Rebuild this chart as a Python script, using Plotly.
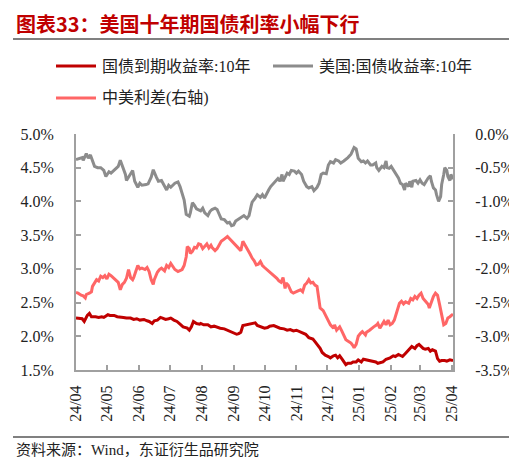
import plotly.graph_objects as go

# ---------------- data ----------------
cn_dates = [
    "2024-04-15", "2024-04-17", "2024-04-21", "2024-04-23", "2024-04-26", "2024-04-28", "2024-04-30",
    "2024-05-04", "2024-05-07", "2024-05-10", "2024-05-12", "2024-05-13", "2024-05-16", "2024-05-18",
    "2024-05-22", "2024-05-25", "2024-05-28", "2024-05-31", "2024-06-03", "2024-06-07", "2024-06-10",
    "2024-06-13", "2024-06-16", "2024-06-20", "2024-06-23", "2024-06-25", "2024-06-28", "2024-06-30",
    "2024-07-03", "2024-07-06", "2024-07-08", "2024-07-11", "2024-07-14", "2024-07-16", "2024-07-19",
    "2024-07-22", "2024-07-25", "2024-07-28", "2024-08-01", "2024-08-03", "2024-08-05", "2024-08-07",
    "2024-08-10", "2024-08-13", "2024-08-14", "2024-08-17", "2024-08-21", "2024-08-24", "2024-08-27",
    "2024-08-30", "2024-09-02", "2024-09-06", "2024-09-09", "2024-09-12", "2024-09-15", "2024-09-18",
    "2024-09-20", "2024-09-22", "2024-09-24", "2024-09-27", "2024-09-30", "2024-10-03", "2024-10-06",
    "2024-10-08", "2024-10-11", "2024-10-15", "2024-10-18", "2024-10-20", "2024-10-24", "2024-10-27",
    "2024-10-30", "2024-11-03", "2024-11-06", "2024-11-09", "2024-11-12", "2024-11-15", "2024-11-18",
    "2024-11-21", "2024-11-24", "2024-11-27", "2024-12-01", "2024-12-03", "2024-12-05", "2024-12-08",
    "2024-12-10", "2024-12-13", "2024-12-16", "2024-12-18", "2024-12-21", "2024-12-23", "2024-12-25",
    "2024-12-27", "2024-12-29", "2024-12-31", "2025-01-02", "2025-01-04", "2025-01-07", "2025-01-09",
    "2025-01-12", "2025-01-14", "2025-01-17", "2025-01-19", "2025-01-22", "2025-01-24", "2025-01-26",
    "2025-01-29", "2025-01-31", "2025-02-02", "2025-02-04", "2025-02-07", "2025-02-10", "2025-02-12",
    "2025-02-14", "2025-02-17", "2025-02-19", "2025-02-22", "2025-02-24", "2025-02-26", "2025-03-01",
    "2025-03-03", "2025-03-05", "2025-03-07", "2025-03-10", "2025-03-12", "2025-03-14", "2025-03-16",
    "2025-03-18", "2025-03-20", "2025-03-23", "2025-03-25", "2025-03-27", "2025-03-30", "2025-04-01",
    "2025-04-03", "2025-04-05", "2025-04-08", "2025-04-10", "2025-04-13", "2025-04-16",
]
cn_10y = [
    2.27, 2.27, 2.26, 2.22, 2.31, 2.34, 2.29,
    2.29, 2.28, 2.29, 2.28, 2.29, 2.32, 2.31,
    2.31, 2.29, 2.29, 2.28, 2.27, 2.27, 2.25,
    2.26, 2.24, 2.25, 2.23, 2.22, 2.19, 2.23,
    2.24, 2.28, 2.27, 2.25, 2.26, 2.27, 2.24,
    2.22, 2.18, 2.14, 2.12, 2.09, 2.14, 2.22,
    2.19, 2.18, 2.19, 2.17, 2.17, 2.14, 2.15,
    2.13, 2.12, 2.11, 2.09, 2.07, 2.04, 2.03,
    2.04, 2.06, 2.16, 2.17, 2.18, 2.19, 2.20,
    2.16, 2.14, 2.12, 2.13, 2.15, 2.16, 2.14,
    2.12, 2.11, 2.09, 2.10, 2.08, 2.09, 2.07,
    2.04, 2.03, 1.98, 1.96, 1.92, 1.88, 1.82,
    1.76, 1.72, 1.70, 1.68, 1.71, 1.72, 1.68,
    1.71, 1.67, 1.62, 1.58, 1.60, 1.60, 1.62,
    1.62, 1.65, 1.62, 1.66, 1.65, 1.64, 1.63,
    1.63, 1.62, 1.60, 1.61, 1.62, 1.66, 1.67,
    1.68, 1.71, 1.70, 1.73, 1.72, 1.70, 1.75,
    1.78, 1.82, 1.85, 1.82, 1.86, 1.88, 1.85,
    1.82, 1.81, 1.82, 1.78, 1.80, 1.78, 1.67,
    1.63, 1.64, 1.64, 1.63, 1.65, 1.64,
]

us_dates = [
    "2024-04-15", "2024-04-21", "2024-04-22", "2024-04-25", "2024-04-27", "2024-04-29", "2024-05-03",
    "2024-05-06", "2024-05-09", "2024-05-12", "2024-05-14", "2024-05-17", "2024-05-19", "2024-05-22",
    "2024-05-26", "2024-05-28", "2024-05-30", "2024-06-02", "2024-06-03", "2024-06-07", "2024-06-09",
    "2024-06-11", "2024-06-14", "2024-06-16", "2024-06-18", "2024-06-22", "2024-06-24", "2024-06-27",
    "2024-06-29", "2024-07-02", "2024-07-04", "2024-07-07", "2024-07-10", "2024-07-12", "2024-07-14",
    "2024-07-16", "2024-07-20", "2024-07-23", "2024-07-25", "2024-07-27", "2024-07-29", "2024-07-31",
    "2024-08-03", "2024-08-04", "2024-08-06", "2024-08-08", "2024-08-10", "2024-08-14", "2024-08-16",
    "2024-08-18", "2024-08-21", "2024-08-23", "2024-08-25", "2024-08-28", "2024-08-30", "2024-09-01",
    "2024-09-03", "2024-09-06", "2024-09-09", "2024-09-11", "2024-09-13", "2024-09-15", "2024-09-17",
    "2024-09-20", "2024-09-22", "2024-09-25", "2024-09-28", "2024-09-30", "2024-10-02", "2024-10-03",
    "2024-10-06", "2024-10-08", "2024-10-11", "2024-10-13", "2024-10-15", "2024-10-17", "2024-10-19",
    "2024-10-21", "2024-10-24", "2024-10-26", "2024-10-28", "2024-10-30", "2024-11-01", "2024-11-02",
    "2024-11-04", "2024-11-06", "2024-11-08", "2024-11-10", "2024-11-13", "2024-11-15", "2024-11-17",
    "2024-11-20", "2024-11-22", "2024-11-25", "2024-11-27", "2024-11-30", "2024-12-02", "2024-12-05",
    "2024-12-07", "2024-12-09", "2024-12-11", "2024-12-14", "2024-12-16", "2024-12-18", "2024-12-21",
    "2024-12-23", "2024-12-26", "2024-12-28", "2024-12-31", "2025-01-02", "2025-01-04", "2025-01-07",
    "2025-01-09", "2025-01-10", "2025-01-12", "2025-01-13", "2025-01-14", "2025-01-17", "2025-01-19",
    "2025-01-21", "2025-01-23", "2025-01-26", "2025-01-28", "2025-01-31", "2025-02-01", "2025-02-03",
    "2025-02-06", "2025-02-08", "2025-02-10", "2025-02-11", "2025-02-13", "2025-02-15", "2025-02-18",
    "2025-02-20", "2025-02-22", "2025-02-24", "2025-02-26", "2025-02-28", "2025-03-01", "2025-03-04",
    "2025-03-05", "2025-03-07", "2025-03-08", "2025-03-11", "2025-03-13", "2025-03-15", "2025-03-17",
    "2025-03-19", "2025-03-21", "2025-03-23", "2025-03-25", "2025-03-26", "2025-03-28", "2025-03-30",
    "2025-03-31", "2025-04-02", "2025-04-04", "2025-04-05", "2025-04-07", "2025-04-08", "2025-04-10",
    "2025-04-11", "2025-04-13", "2025-04-14", "2025-04-16",
]
us_10y = [
    4.62, 4.65, 4.61, 4.71, 4.64, 4.69, 4.52,
    4.50, 4.50, 4.46, 4.37, 4.44, 4.42, 4.46,
    4.52, 4.61, 4.52, 4.40, 4.31, 4.42, 4.46,
    4.30, 4.21, 4.27, 4.24, 4.25, 4.26, 4.36,
    4.47, 4.36, 4.30, 4.31, 4.21, 4.17, 4.24,
    4.21, 4.27, 4.29, 4.22, 4.10, 4.02, 3.81,
    3.78, 3.83, 3.98, 3.94, 3.89, 3.86, 3.90,
    3.83, 3.79, 3.85, 3.88, 3.90, 3.88, 3.81,
    3.74, 3.73, 3.68, 3.69, 3.64, 3.65, 3.71,
    3.74, 3.76, 3.79, 3.75, 3.79, 3.93, 3.99,
    4.05, 4.10, 4.06, 4.10, 4.05, 4.12, 4.17,
    4.22, 4.27, 4.30, 4.34, 4.30, 4.40, 4.30,
    4.36, 4.42, 4.40, 4.46, 4.45, 4.42, 4.45,
    4.40, 4.30, 4.22, 4.20, 4.22, 4.16, 4.21,
    4.27, 4.40, 4.42, 4.41, 4.54, 4.59, 4.57,
    4.62, 4.60, 4.57, 4.60, 4.62, 4.65, 4.70,
    4.78, 4.80, 4.78, 4.69, 4.64, 4.59, 4.60,
    4.57, 4.60, 4.54, 4.54, 4.57, 4.50, 4.46,
    4.52, 4.50, 4.60, 4.50, 4.49, 4.52, 4.45,
    4.40, 4.35, 4.27, 4.25, 4.17, 4.27, 4.22,
    4.30, 4.21, 4.30, 4.31, 4.27, 4.32, 4.27,
    4.25, 4.31, 4.35, 4.38, 4.30, 4.20, 4.17,
    4.10, 4.00, 4.07, 4.25, 4.40, 4.50, 4.46,
    4.37, 4.31, 4.40, 4.33,
]

spread_dates = [
    "2024-04-15", "2024-04-17", "2024-04-20", "2024-04-22", "2024-04-24", "2024-04-25", "2024-04-28",
    "2024-04-30", "2024-05-01", "2024-05-03", "2024-05-05", "2024-05-07", "2024-05-09", "2024-05-11",
    "2024-05-13", "2024-05-15", "2024-05-17", "2024-05-19", "2024-05-21", "2024-05-23", "2024-05-26",
    "2024-05-28", "2024-05-30", "2024-06-01", "2024-06-03", "2024-06-05", "2024-06-07", "2024-06-09",
    "2024-06-10", "2024-06-12", "2024-06-14", "2024-06-16", "2024-06-18", "2024-06-21", "2024-06-23",
    "2024-06-25", "2024-06-27", "2024-06-29", "2024-06-30", "2024-07-03", "2024-07-05", "2024-07-07",
    "2024-07-10", "2024-07-12", "2024-07-14", "2024-07-16", "2024-07-18", "2024-07-20", "2024-07-23",
    "2024-07-25", "2024-07-27", "2024-07-29", "2024-07-31", "2024-08-01", "2024-08-03", "2024-08-04",
    "2024-08-06", "2024-08-08", "2024-08-10", "2024-08-12", "2024-08-14", "2024-08-16", "2024-08-18",
    "2024-08-20", "2024-08-22", "2024-08-24", "2024-08-25", "2024-08-28", "2024-08-30", "2024-09-01",
    "2024-09-03", "2024-09-05", "2024-09-08", "2024-09-09", "2024-09-12", "2024-09-14", "2024-09-16",
    "2024-09-18", "2024-09-20", "2024-09-22", "2024-09-24", "2024-09-26", "2024-09-29", "2024-10-01",
    "2024-10-03", "2024-10-05", "2024-10-07", "2024-10-09", "2024-10-11", "2024-10-13", "2024-10-15",
    "2024-10-17", "2024-10-20", "2024-10-22", "2024-10-24", "2024-10-27", "2024-10-29", "2024-10-31",
    "2024-11-02", "2024-11-04", "2024-11-05", "2024-11-07", "2024-11-10", "2024-11-12", "2024-11-14",
    "2024-11-16", "2024-11-19", "2024-11-21", "2024-11-23", "2024-11-25", "2024-11-27", "2024-11-29",
    "2024-12-01", "2024-12-03", "2024-12-05", "2024-12-07", "2024-12-08", "2024-12-11", "2024-12-13",
    "2024-12-14", "2024-12-16", "2024-12-18", "2024-12-21", "2024-12-22", "2024-12-24", "2024-12-26",
    "2024-12-27", "2024-12-29", "2024-12-31", "2025-01-02", "2025-01-05", "2025-01-07", "2025-01-09",
    "2025-01-10", "2025-01-12", "2025-01-14", "2025-01-16", "2025-01-18", "2025-01-21", "2025-01-22",
    "2025-01-25", "2025-01-27", "2025-01-29", "2025-02-01", "2025-02-02", "2025-02-04", "2025-02-06",
    "2025-02-08", "2025-02-10", "2025-02-12", "2025-02-14", "2025-02-16", "2025-02-18", "2025-02-21",
    "2025-02-23", "2025-02-25", "2025-02-27", "2025-03-01", "2025-03-04", "2025-03-06", "2025-03-08",
    "2025-03-10", "2025-03-12", "2025-03-14", "2025-03-16", "2025-03-18", "2025-03-20", "2025-03-23",
    "2025-03-24", "2025-03-26", "2025-03-28", "2025-03-30", "2025-04-01", "2025-04-03", "2025-04-05",
    "2025-04-07", "2025-04-09", "2025-04-11", "2025-04-13", "2025-04-16",
]
spread = [
    -2.35, -2.36, -2.39, -2.40, -2.43, -2.38, -2.36,
    -2.34, -2.26, -2.21, -2.16, -2.18, -2.11, -2.13,
    -2.10, -2.15, -2.08, -2.10, -2.13, -2.16, -2.20,
    -2.31, -2.23, -2.20, -2.14, -2.01, -2.13, -2.16,
    -2.13, -2.04, -1.95, -2.00, -1.99, -2.01, -1.98,
    -2.04, -2.16, -2.23, -2.16, -2.05, -2.01, -1.99,
    -2.03, -1.95, -1.98, -1.92, -1.97, -2.01, -2.04,
    -2.03, -2.01, -1.95, -1.82, -1.67, -1.70, -1.77,
    -1.74, -1.68, -1.69, -1.63, -1.64, -1.70, -1.67,
    -1.63, -1.69, -1.65, -1.68, -1.73, -1.70, -1.64,
    -1.59, -1.57, -1.53, -1.52, -1.57, -1.60, -1.64,
    -1.67, -1.70, -1.73, -1.59, -1.64, -1.72, -1.78,
    -1.84, -1.88, -1.94, -1.93, -1.89, -1.95, -1.98,
    -2.01, -2.05, -2.08, -2.10, -2.14, -2.18, -2.20,
    -2.13, -2.29, -2.21, -2.24, -2.34, -2.36, -2.34,
    -2.33, -2.31, -2.34, -2.24, -2.21, -2.16, -2.21,
    -2.20, -2.24, -2.26, -2.44, -2.58, -2.62, -2.68,
    -2.71, -2.78, -2.83, -2.88, -2.83, -2.91, -2.87,
    -2.86, -2.92, -3.00, -3.05, -3.08, -3.10, -3.14,
    -3.17, -3.12, -3.00, -2.96, -2.93, -2.98, -2.94,
    -2.91, -2.88, -2.86, -2.83, -2.81, -2.88, -2.83,
    -2.78, -2.83, -2.76, -2.83, -2.81, -2.76, -2.61,
    -2.51, -2.48, -2.52, -2.49, -2.51, -2.44, -2.46,
    -2.41, -2.44, -2.39, -2.36, -2.44, -2.48, -2.53,
    -2.58, -2.49, -2.41, -2.36, -2.39, -2.53, -2.70,
    -2.83, -2.81, -2.73, -2.71, -2.67,
]

left_ticks = [1.5, 2.0, 2.5, 3.0, 3.5, 4.0, 4.5, 5.0]
left_labels = ["1.5%", "2.0%", "2.5%", "3.0%", "3.5%", "4.0%", "4.5%", "5.0%"]
right_ticks = [-3.5, -3.0, -2.5, -2.0, -1.5, -1.0, -0.5, 0.0]
right_labels = ["-3.5%", "-3.0%", "-2.5%", "-2.0%", "-1.5%", "-1.0%", "-0.5%", "0.0%"]

names = ["国债到期收益率:10年", "美国:国债收益率:10年", "中美利差(右轴)"]
colors = ["#C00000", "#8C8C8C", "#FF6666"]
title_text = "图表33：美国十年期国债利率小幅下行"
source_text = "资料来源：Wind，东证衍生品研究院"

# ---------------- layout geometry (pixels) ----------------
W, H = 517, 457
L, R, T, B = 68, 445, 126, 362
pw, ph = R - L, B - T


def px(x):
    return (x - L) / pw


def py(y):
    return (B - y) / ph


SERIF = "Liberation Serif, Noto Sans CJK SC, serif"
CJK = "Liberation Serif, Noto Sans CJK SC, sans-serif"
AXIS_GRAY = "#A0A0A0"

fig = go.Figure()
fig.add_trace(go.Scatter(x=spread_dates, y=spread, name=names[2], yaxis="y2",
                         mode="lines", line=dict(color=colors[2], width=3)))
fig.add_trace(go.Scatter(x=us_dates, y=us_10y, name=names[1],
                         mode="lines", line=dict(color=colors[1], width=3)))
fig.add_trace(go.Scatter(x=cn_dates, y=cn_10y, name=names[0],
                         mode="lines", line=dict(color=colors[0], width=3)))

shapes = []
annotations = []

# title + rules
annotations.append(dict(xref="paper", yref="paper", x=px(6), y=py(16), xanchor="left", yanchor="middle",
                        text=title_text, showarrow=False,
                        font=dict(family="Noto Sans CJK SC", size=20, color="#C00000", weight="bold")))
shapes.append(dict(type="line", xref="paper", yref="paper", x0=px(5), x1=px(512), y0=py(31), y1=py(31),
                   line=dict(color="#808080", width=2)))
shapes.append(dict(type="line", xref="paper", yref="paper", x0=px(5), x1=px(512), y0=py(429), y1=py(429),
                   line=dict(color="#808080", width=2)))
annotations.append(dict(xref="paper", yref="paper", x=px(6), y=py(441), xanchor="left", yanchor="middle",
                        text=source_text, showarrow=False,
                        font=dict(family=CJK, size=15, color="#222222")))

# manual legend
legend_pos = [(48, 58), (265, 58), (48, 90)]
for (lx, ly), nm, col in zip(legend_pos, names, colors):
    shapes.append(dict(type="line", xref="paper", yref="paper", x0=px(lx), x1=px(lx + 40),
                       y0=py(ly), y1=py(ly), line=dict(color=col, width=3)))
    annotations.append(dict(xref="paper", yref="paper", x=px(lx + 44), y=py(ly), xanchor="left",
                            yanchor="middle", text=nm, showarrow=False,
                            font=dict(family=CJK, size=16, color="#222222")))

fig.update_layout(
    width=W, height=H,
    margin=dict(l=L, r=W - R, t=T, b=H - B, pad=0),
    paper_bgcolor="white", plot_bgcolor="white",
    showlegend=False,
    shapes=shapes, annotations=annotations,
    xaxis=dict(type="date", range=["2024-04-15", "2025-04-16"],
               tick0="2024-04-15", dtick="M1", tickformat="%y/%m", tickangle=-90,
               ticks="inside", ticklen=5, tickcolor=AXIS_GRAY, tickwidth=1.5,
               showline=True, linecolor=AXIS_GRAY, linewidth=2, showgrid=False, zeroline=False,
               ticklabelstandoff=7,
               tickfont=dict(family=SERIF, size=16, color="#222222")),
    yaxis=dict(range=[1.5, 5.0], tickvals=left_ticks, ticktext=left_labels,
               ticks="inside", ticklen=5, tickcolor=AXIS_GRAY, tickwidth=1.5,
               showline=True, linecolor=AXIS_GRAY, linewidth=2, showgrid=False, zeroline=False,
               ticklabelstandoff=17,
               tickfont=dict(family=SERIF, size=16, color="#222222")),
    yaxis2=dict(range=[-3.5, 0.0], tickvals=right_ticks, ticktext=right_labels, overlaying="y", side="right",
                ticks="inside", ticklen=5, tickcolor=AXIS_GRAY, tickwidth=1.5,
                showline=True, linecolor=AXIS_GRAY, linewidth=2, showgrid=False, zeroline=False,
                ticklabelstandoff=17,
                tickfont=dict(family=SERIF, size=16, color="#222222")),
)

fig.write_html("out.html")
